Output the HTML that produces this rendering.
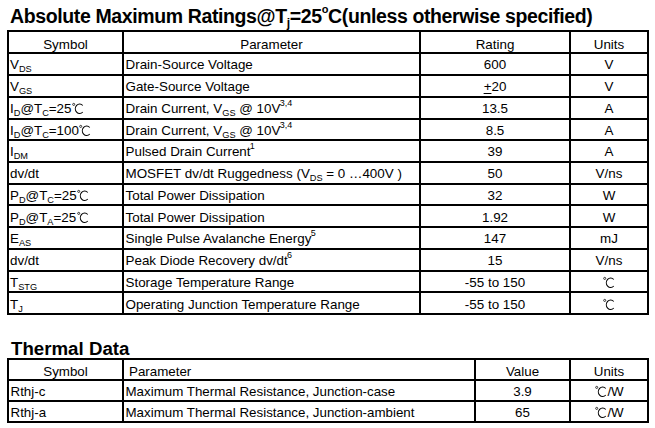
<!DOCTYPE html>
<html><head><meta charset="utf-8"><style>
html,body{margin:0;padding:0;background:#fff;}
body{width:655px;height:428px;position:relative;overflow:hidden;font-family:"Liberation Sans",sans-serif;color:#000;}
.l{position:absolute;background:#000;}
.t{position:absolute;line-height:1;white-space:nowrap;}
.sub{font-size:9.2px;position:relative;top:3px;}
.sup{font-size:9px;position:relative;top:-7px;margin-left:-0.7px;}
.tsub{font-size:12.2px;position:relative;top:3.6px;}
.tsup{font-size:11px;position:relative;top:-9.5px;}
.deg{vertical-align:-2px;margin-left:0.3px;}
u{text-decoration-thickness:1px;text-underline-offset:2.4px;}
</style></head>
<body>
<div class="t" style="top:6.99px;font-size:19.5px;font-weight:bold;left:10.00px;letter-spacing:-0.38px;">Absolute Maximum Ratings@T<span class="tsub">j</span>=25<span class="tsup">o</span>C(unless otherwise specified)</div><div class="l" style="left:7px;top:30px;width:642px;height:2px"></div><div class="l" style="left:7px;top:52px;width:642px;height:2px"></div><div class="l" style="left:7px;top:74px;width:642px;height:2px"></div><div class="l" style="left:7px;top:96px;width:642px;height:2px"></div><div class="l" style="left:7px;top:118px;width:642px;height:2px"></div><div class="l" style="left:7px;top:139px;width:642px;height:2px"></div><div class="l" style="left:7px;top:161px;width:642px;height:2px"></div><div class="l" style="left:7px;top:183px;width:642px;height:2px"></div><div class="l" style="left:7px;top:204px;width:642px;height:2px"></div><div class="l" style="left:7px;top:226px;width:642px;height:2px"></div><div class="l" style="left:7px;top:248px;width:642px;height:2px"></div><div class="l" style="left:7px;top:270px;width:642px;height:2px"></div><div class="l" style="left:7px;top:291px;width:642px;height:2px"></div><div class="l" style="left:7px;top:313px;width:642px;height:2px"></div><div class="l" style="left:7px;top:30px;width:2px;height:285px"></div><div class="l" style="left:122px;top:30px;width:2px;height:285px"></div><div class="l" style="left:419px;top:30px;width:2px;height:285px"></div><div class="l" style="left:569px;top:30px;width:2px;height:285px"></div><div class="l" style="left:647px;top:30px;width:2px;height:285px"></div><div class="t" style="top:37.86px;font-size:13.4px;left:-84.50px;width:300px;text-align:center;">Symbol</div><div class="t" style="top:37.86px;font-size:13.4px;left:121.50px;width:300px;text-align:center;">Parameter</div><div class="t" style="top:37.86px;font-size:13.4px;left:345.00px;width:300px;text-align:center;">Rating</div><div class="t" style="top:37.86px;font-size:13.4px;left:459.00px;width:300px;text-align:center;">Units</div><div class="t" style="top:58.30px;font-size:13.4px;left:10.00px;">V<span class="sub">DS</span></div><div class="t" style="top:58.30px;font-size:13.4px;left:125.50px;">Drain-Source Voltage</div><div class="t" style="top:58.30px;font-size:13.4px;left:345.00px;width:300px;text-align:center;">600</div><div class="t" style="top:58.30px;font-size:13.4px;left:459.00px;width:300px;text-align:center;">V</div><div class="t" style="top:80.07px;font-size:13.4px;left:10.00px;">V<span class="sub">GS</span></div><div class="t" style="top:80.07px;font-size:13.4px;left:125.50px;">Gate-Source Voltage</div><div class="t" style="top:80.07px;font-size:13.4px;left:345.00px;width:300px;text-align:center;"><u>+</u>20</div><div class="t" style="top:80.07px;font-size:13.4px;left:459.00px;width:300px;text-align:center;">V</div><div class="t" style="top:101.84px;font-size:13.4px;left:10.00px;">I<span class="sub">D</span>@T<span class="sub">C</span>=25<svg class="deg" width="12" height="13" viewBox="0 0 12 13"><circle cx="1.7" cy="2.4" r="1.05" fill="none" stroke="#000" stroke-width="0.75"/><path d="M10.75 3.49 A4.3 4.7 0 1 0 10.75 10.01" fill="none" stroke="#000" stroke-width="1.1"/></svg></div><div class="t" style="top:101.84px;font-size:13.4px;left:125.50px;">Drain Current, V<span class="sub">GS</span> @ 10V<span class="sup">3,4</span></div><div class="t" style="top:101.84px;font-size:13.4px;left:345.00px;width:300px;text-align:center;">13.5</div><div class="t" style="top:101.84px;font-size:13.4px;left:459.00px;width:300px;text-align:center;">A</div><div class="t" style="top:123.61px;font-size:13.4px;left:10.00px;">I<span class="sub">D</span>@T<span class="sub">C</span>=100<svg class="deg" width="12" height="13" viewBox="0 0 12 13"><circle cx="1.7" cy="2.4" r="1.05" fill="none" stroke="#000" stroke-width="0.75"/><path d="M10.75 3.49 A4.3 4.7 0 1 0 10.75 10.01" fill="none" stroke="#000" stroke-width="1.1"/></svg></div><div class="t" style="top:123.61px;font-size:13.4px;left:125.50px;">Drain Current, V<span class="sub">GS</span> @ 10V<span class="sup">3,4</span></div><div class="t" style="top:123.61px;font-size:13.4px;left:345.00px;width:300px;text-align:center;">8.5</div><div class="t" style="top:123.61px;font-size:13.4px;left:459.00px;width:300px;text-align:center;">A</div><div class="t" style="top:145.38px;font-size:13.4px;left:10.00px;">I<span class="sub">DM</span></div><div class="t" style="top:145.38px;font-size:13.4px;left:125.50px;">Pulsed Drain Current<span class="sup">1</span></div><div class="t" style="top:145.38px;font-size:13.4px;left:345.00px;width:300px;text-align:center;">39</div><div class="t" style="top:145.38px;font-size:13.4px;left:459.00px;width:300px;text-align:center;">A</div><div class="t" style="top:167.15px;font-size:13.4px;left:10.00px;">dv/dt</div><div class="t" style="top:167.15px;font-size:13.4px;left:125.50px;">MOSFET dv/dt Ruggedness (V<span class="sub">DS</span> = 0 …400V )</div><div class="t" style="top:167.15px;font-size:13.4px;left:345.00px;width:300px;text-align:center;">50</div><div class="t" style="top:167.15px;font-size:13.4px;left:459.00px;width:300px;text-align:center;">V/ns</div><div class="t" style="top:188.92px;font-size:13.4px;left:10.00px;">P<span class="sub">D</span>@T<span class="sub">C</span>=25<svg class="deg" width="12" height="13" viewBox="0 0 12 13"><circle cx="1.7" cy="2.4" r="1.05" fill="none" stroke="#000" stroke-width="0.75"/><path d="M10.75 3.49 A4.3 4.7 0 1 0 10.75 10.01" fill="none" stroke="#000" stroke-width="1.1"/></svg></div><div class="t" style="top:188.92px;font-size:13.4px;left:125.50px;">Total Power Dissipation</div><div class="t" style="top:188.92px;font-size:13.4px;left:345.00px;width:300px;text-align:center;">32</div><div class="t" style="top:188.92px;font-size:13.4px;left:459.00px;width:300px;text-align:center;">W</div><div class="t" style="top:210.69px;font-size:13.4px;left:10.00px;">P<span class="sub">D</span>@T<span class="sub">A</span>=25<svg class="deg" width="12" height="13" viewBox="0 0 12 13"><circle cx="1.7" cy="2.4" r="1.05" fill="none" stroke="#000" stroke-width="0.75"/><path d="M10.75 3.49 A4.3 4.7 0 1 0 10.75 10.01" fill="none" stroke="#000" stroke-width="1.1"/></svg></div><div class="t" style="top:210.69px;font-size:13.4px;left:125.50px;">Total Power Dissipation</div><div class="t" style="top:210.69px;font-size:13.4px;left:345.00px;width:300px;text-align:center;">1.92</div><div class="t" style="top:210.69px;font-size:13.4px;left:459.00px;width:300px;text-align:center;">W</div><div class="t" style="top:232.46px;font-size:13.4px;left:10.00px;">E<span class="sub">AS</span></div><div class="t" style="top:232.46px;font-size:13.4px;left:125.50px;">Single Pulse Avalanche Energy<span class="sup">5</span></div><div class="t" style="top:232.46px;font-size:13.4px;left:345.00px;width:300px;text-align:center;">147</div><div class="t" style="top:232.46px;font-size:13.4px;left:459.00px;width:300px;text-align:center;">mJ</div><div class="t" style="top:254.23px;font-size:13.4px;left:10.00px;">dv/dt</div><div class="t" style="top:254.23px;font-size:13.4px;left:125.50px;">Peak Diode Recovery dv/dt<span class="sup">6</span></div><div class="t" style="top:254.23px;font-size:13.4px;left:345.00px;width:300px;text-align:center;">15</div><div class="t" style="top:254.23px;font-size:13.4px;left:459.00px;width:300px;text-align:center;">V/ns</div><div class="t" style="top:276.00px;font-size:13.4px;left:10.00px;">T<span class="sub">STG</span></div><div class="t" style="top:276.00px;font-size:13.4px;left:125.50px;">Storage Temperature Range</div><div class="t" style="top:276.00px;font-size:13.4px;left:345.00px;width:300px;text-align:center;">-55 to 150</div><div class="t" style="top:276.00px;font-size:13.4px;left:459.00px;width:300px;text-align:center;"><svg class="deg" width="12" height="13" viewBox="0 0 12 13"><circle cx="1.7" cy="2.4" r="1.05" fill="none" stroke="#000" stroke-width="0.75"/><path d="M10.75 3.49 A4.3 4.7 0 1 0 10.75 10.01" fill="none" stroke="#000" stroke-width="1.1"/></svg></div><div class="t" style="top:297.77px;font-size:13.4px;left:10.00px;">T<span class="sub">J</span></div><div class="t" style="top:297.77px;font-size:13.4px;left:125.50px;">Operating Junction Temperature Range</div><div class="t" style="top:297.77px;font-size:13.4px;left:345.00px;width:300px;text-align:center;">-55 to 150</div><div class="t" style="top:297.77px;font-size:13.4px;left:459.00px;width:300px;text-align:center;"><svg class="deg" width="12" height="13" viewBox="0 0 12 13"><circle cx="1.7" cy="2.4" r="1.05" fill="none" stroke="#000" stroke-width="0.75"/><path d="M10.75 3.49 A4.3 4.7 0 1 0 10.75 10.01" fill="none" stroke="#000" stroke-width="1.1"/></svg></div><div class="t" style="top:339.97px;font-size:18.7px;font-weight:bold;left:11.00px;">Thermal Data</div><div class="l" style="left:7px;top:358px;width:642px;height:2px"></div><div class="l" style="left:7px;top:379px;width:642px;height:2px"></div><div class="l" style="left:7px;top:400px;width:642px;height:2px"></div><div class="l" style="left:7px;top:421px;width:642px;height:2px"></div><div class="l" style="left:7px;top:358px;width:2px;height:65px"></div><div class="l" style="left:122px;top:358px;width:2px;height:65px"></div><div class="l" style="left:474px;top:358px;width:2px;height:65px"></div><div class="l" style="left:569px;top:358px;width:2px;height:65px"></div><div class="l" style="left:647px;top:358px;width:2px;height:65px"></div><div class="t" style="top:365.00px;font-size:13.35px;left:-84.50px;width:300px;text-align:center;">Symbol</div><div class="t" style="top:365.00px;font-size:13.35px;left:129.00px;">Parameter</div><div class="t" style="top:365.00px;font-size:13.35px;left:372.50px;width:300px;text-align:center;">Value</div><div class="t" style="top:365.00px;font-size:13.35px;left:459.00px;width:300px;text-align:center;">Units</div><div class="t" style="top:385.00px;font-size:13.35px;left:10.50px;">Rthj-c</div><div class="t" style="top:385.00px;font-size:13.35px;left:125.50px;">Maximum Thermal Resistance, Junction-case</div><div class="t" style="top:385.00px;font-size:13.35px;left:372.50px;width:300px;text-align:center;">3.9</div><div class="t" style="top:385.00px;font-size:13.35px;left:459.00px;width:300px;text-align:center;"><svg class="deg" width="12" height="13" viewBox="0 0 12 13"><circle cx="1.7" cy="2.4" r="1.05" fill="none" stroke="#000" stroke-width="0.75"/><path d="M10.75 3.49 A4.3 4.7 0 1 0 10.75 10.01" fill="none" stroke="#000" stroke-width="1.1"/></svg><span style="margin-left:0.8px">/W</span></div><div class="t" style="top:406.00px;font-size:13.35px;left:10.50px;">Rthj-a</div><div class="t" style="top:406.00px;font-size:13.35px;left:125.50px;">Maximum Thermal Resistance, Junction-ambient</div><div class="t" style="top:406.00px;font-size:13.35px;left:372.50px;width:300px;text-align:center;">65</div><div class="t" style="top:406.00px;font-size:13.35px;left:459.00px;width:300px;text-align:center;"><svg class="deg" width="12" height="13" viewBox="0 0 12 13"><circle cx="1.7" cy="2.4" r="1.05" fill="none" stroke="#000" stroke-width="0.75"/><path d="M10.75 3.49 A4.3 4.7 0 1 0 10.75 10.01" fill="none" stroke="#000" stroke-width="1.1"/></svg><span style="margin-left:0.8px">/W</span></div>
</body></html>
